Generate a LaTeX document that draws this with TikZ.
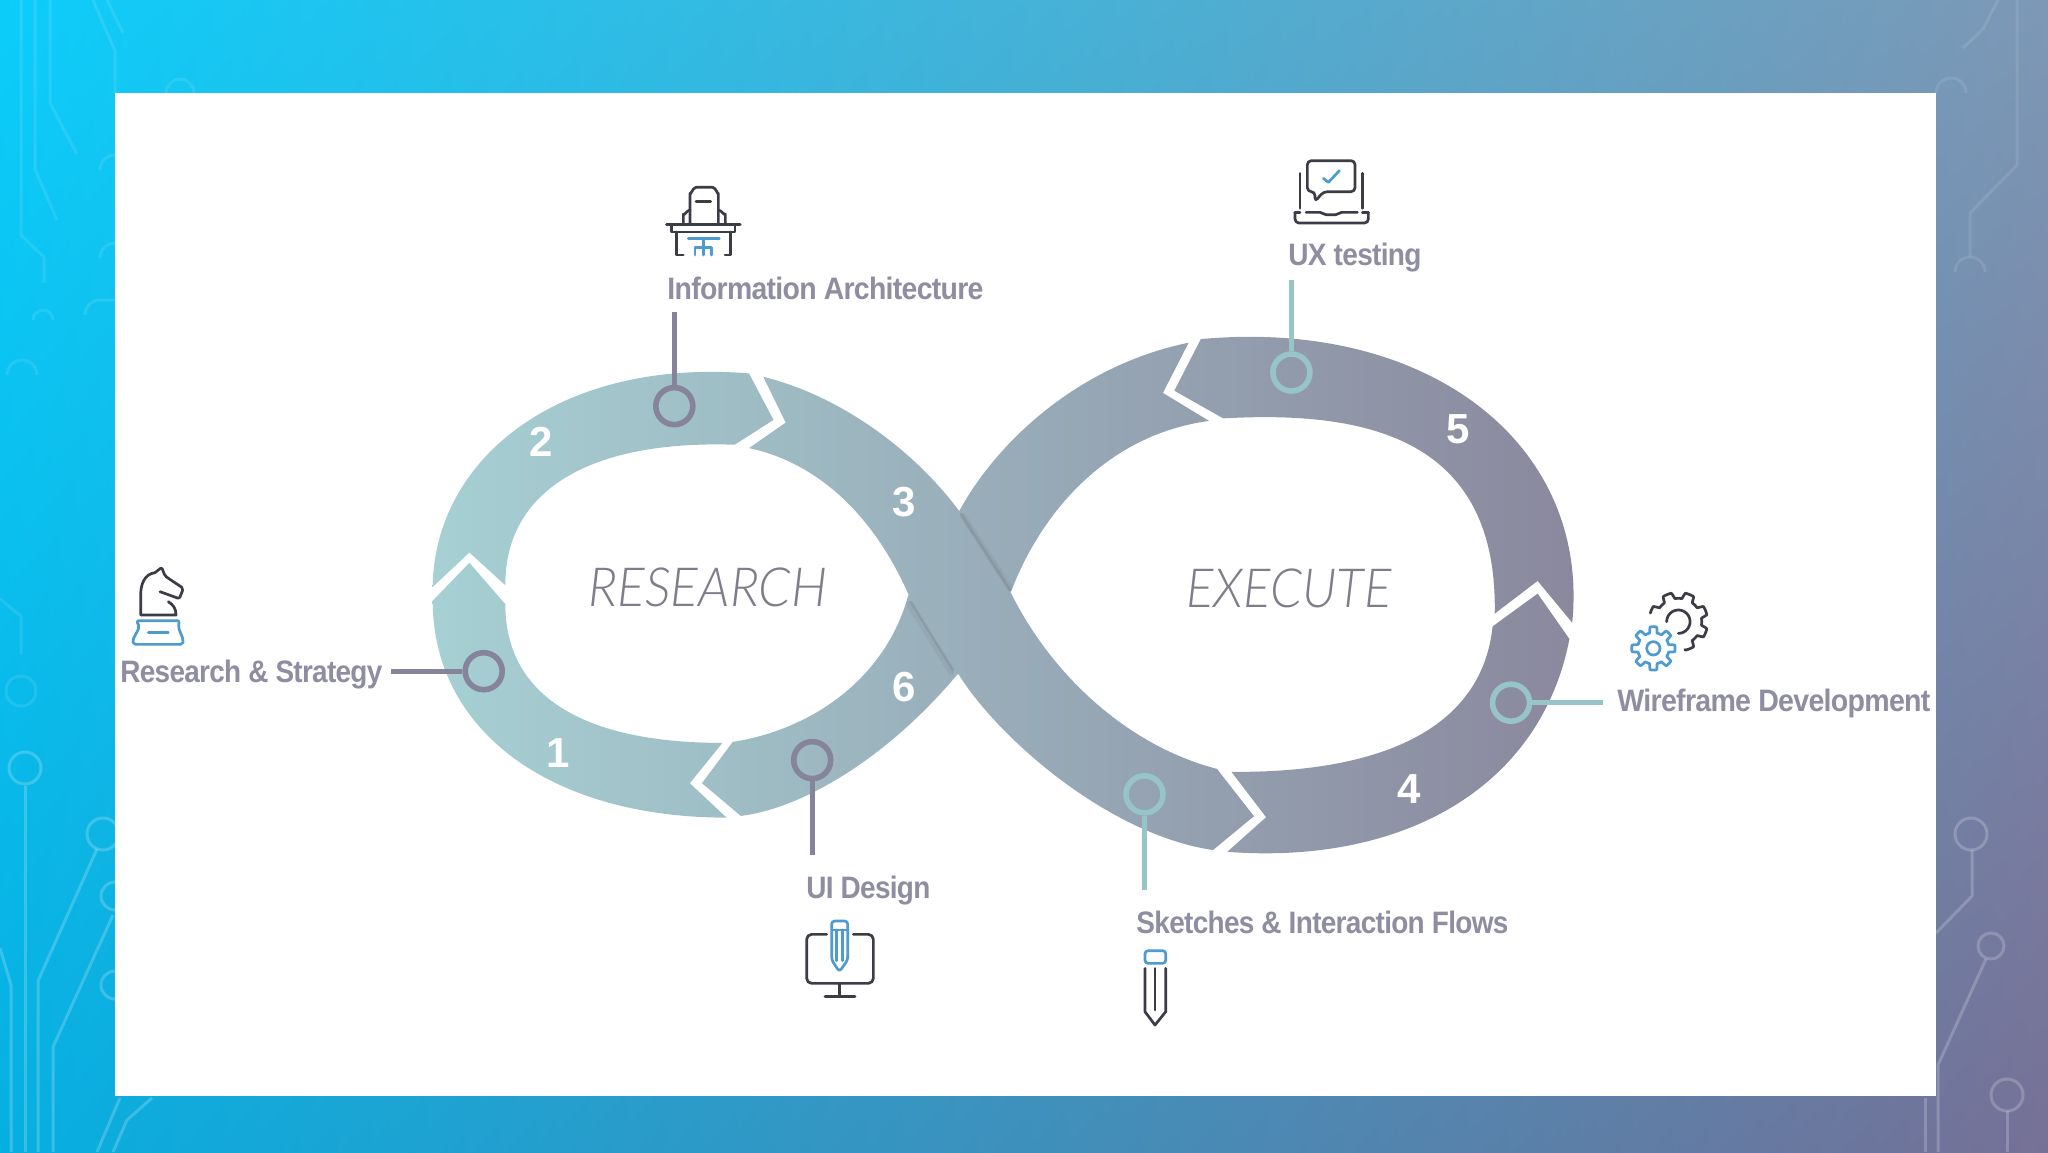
\documentclass[tikz,border=0pt]{standalone}
\usepackage{fontspec}
\usepackage{graphicx}
\usetikzlibrary{shadings}
\setmainfont{Liberation Sans}
\newfontfamily\lightfont{Lato Light Italic}
\newfontfamily\labfont[LetterSpace=-2.5]{Liberation Sans}
\definecolor{labelgray}{HTML}{8E8DA1}
\definecolor{ringgray}{HTML}{85849A}
\definecolor{ringteal}{HTML}{97C4C6}
\definecolor{iconink}{HTML}{3C3C46}
\definecolor{iconblue}{HTML}{4E9BD0}
\definecolor{wordgray}{HTML}{7E7E8A}
\definecolor{bgul}{RGB}{12,205,250}
\definecolor{bgur}{RGB}{125,152,182}
\definecolor{bgll}{RGB}{6,175,225}
\definecolor{bglr}{RGB}{118,112,150}
\definecolor{bandl}{RGB}{166,208,211}
\definecolor{bandm}{RGB}{150,173,187}
\definecolor{bandr}{RGB}{138,135,157}
\tikzset{
  trace/.style={draw=white,draw opacity=.2,line width=1.5pt,line join=round},
  tracefaint/.style={draw=white,draw opacity=.1,line width=1.5pt,line join=round},
  ringg/.style={circle,draw=ringgray,line width=2.8pt,minimum size=18.5pt,inner sep=0pt},
  ringt/.style={circle,draw=ringteal,line width=2.8pt,minimum size=18.5pt,inner sep=0pt},
  stemg/.style={draw=ringgray,line width=2.6pt},
  stemt/.style={draw=ringteal,line width=2.6pt},
  digit/.style={text=white,font=\fontsize{21}{21}\selectfont\bfseries,inner sep=0pt},
  lab/.style={text=labelgray,font=\fontsize{15.5}{15.5}\selectfont\labfont\bfseries,inner sep=0pt,anchor=west},
  big/.style={text=wordgray,font=\fontsize{27}{27}\selectfont\lightfont,inner sep=0pt,anchor=west},
  ink/.style={draw=iconink,line width=1.35pt,line cap=round,line join=round},
  blueink/.style={draw=iconblue,line width=1.35pt,line cap=round,line join=round},
  crease/.style={draw=black!40!gray,line cap=round}
}
\begin{document}
\begin{tikzpicture}[x=.5pt,y=-.5pt]
\useasboundingbox (0,0) rectangle (2048,1152);
\shade[upper left=bgul,upper right=bgur,lower left=bgll,lower right=bglr]
  (0,0) rectangle (2048,1152);
% circuit traces, left
\draw[tracefaint] (21,0)--(21,235)--(44,257)--(44,283);
\draw[tracefaint] (35,0)--(35,169)--(57,220);
\draw[tracefaint] (50,0)--(50,103)--(77,154);
\draw[tracefaint] (93,0)--(115,51)--(115,93);
\draw[tracefaint] (107,0)--(123,33);
\draw[tracefaint] (0,599)--(21,616)--(21,654);
\draw[trace] (25,786)--(25,1152);
\draw[trace] (97,849)--(38,981)--(38,1152);
\draw[trace] (113,915)--(53,1047)--(53,1152);
\draw[trace] (0,948)--(11,985)--(11,1152);
\draw[trace] (120,1098)--(97,1152);
\draw[trace] (152,1098)--(127,1120)--(113,1152);
\draw[tracefaint] (21,691) circle[radius=15];
\draw[trace] (25,768) circle[radius=16];
\draw[trace] (103,834) circle[radius=16];
\draw[trace] (115,896) circle[radius=14];
\draw[trace] (115,985) circle[radius=14];
\draw[tracefaint] (7,375) arc[start angle=180,end angle=360,radius=15];
\draw[tracefaint] (33,320) arc[start angle=180,end angle=360,radius=10];
\draw[tracefaint] (85,315) arc[start angle=180,end angle=270,radius=15]--(115,300);
\draw[tracefaint] (100,258) arc[start angle=180,end angle=270,radius=15];
\draw[tracefaint] (100,170) arc[start angle=180,end angle=270,radius=15];
\draw[tracefaint] (166,93) arc[start angle=180,end angle=360,radius=14];
% circuit traces, right
\draw[tracefaint] (2017,0)--(2017,165)--(1970,213)--(1970,257);
\draw[tracefaint] (1998,0)--(1983,29)--(1963,48);
\draw[tracefaint] (1955,272) arc[start angle=180,end angle=360,radius=15];
\draw[tracefaint] (1936,93) arc[start angle=180,end angle=360,radius=15];
\draw[trace] (1971,834) circle[radius=16];
\draw[trace] (1972,850)--(1972,896)--(1936,933);
\draw[trace] (1991,946) circle[radius=13];
\draw[trace] (1986,959)--(1938,1065)--(1938,1152);
\draw[trace] (2007,1095) circle[radius=16];
\draw[trace] (2007,1111)--(2007,1152);
\draw[trace] (1925,1098)--(1925,1152);
% panel
\fill[white] (115,93) rectangle (1935.5,1096);
% infinity band
\shade[left color=bandl,middle color=bandm,right color=bandr]
 % segment 1
 (505.3,604.1)--(469.4,562.8)--(432.7,600.7)
 .. controls (432.7,730.9) and (550.7,817.6) .. (726.5,817.6)
 --(689.8,783.2)--(722.4,742.9)
 .. controls (581,742.9) and (505.3,694.5) .. (505.3,604.1) --cycle
 % segment 2
 (505.3,585.2)--(469.4,552.5)--(432.7,586.9)
 .. controls (434,459) and (559,358) .. (749,373.4)
 --(773.5,419.9)--(734.7,444.7)
 .. controls (590,440) and (505,490) .. (505.3,585.2) --cycle
 % segment 3
 (763.3,376.8)--(785.7,422.6)--(749,448.1)
 .. controls (815,462) and (872,512) .. (908.2,593.8)
 --(959,675)
 .. controls (1000,740) and (1110,835) .. (1213,850)
 --(1253.9,816.2)--(1217,768.9)
 .. controls (1125,745) and (1050,672) .. (1011,593)
 --(959.2,511.1)
 .. controls (918,455) and (845,397) .. (763.3,376.8) --cycle
 % segment 6, upper part (runs under band 3)
 (1209,420.9)--(1162.9,392.9)--(1188.6,342.7)
 .. controls (1080,365) and (998,440) .. (959.2,511.1)
 --(950,530)--(990,600)--(1011,591.8)
 .. controls (1040,515) and (1105,435) .. (1209,420.9) --cycle
 % segment 6, lower part (runs under band 3)
 (925,585)--(908.2,595.5)
 .. controls (885,680) and (810,730) .. (732.7,741.9)
 --(702,783.2)--(740.8,815.9)
 .. controls (805,808) and (890,755) .. (957.1,674.7)
 --(975,665)--cycle
 % segment 4
 (1231.4,771.8)--(1266.1,817.2)--(1227.3,851.8)
 .. controls (1400,865) and (1540,790) .. (1569.4,639)
 --(1537.6,593.6)--(1492.6,626.4)
 .. controls (1480,745) and (1350,773) .. (1231.4,771.8) --cycle
 % segment 5
 (1494.7,613.6)--(1537.6,580.9)--(1572.2,622.7)
 .. controls (1590,445) and (1430,318) .. (1200.8,339.1)
 --(1174.3,390.7)--(1223.3,418.4)
 .. controls (1370,410) and (1498,440) .. (1494.7,613.6) --cycle;
% creases where band 3 crosses band 6
\draw[crease,line width=3pt,opacity=.08] (963,516)--(1010,588);
\draw[crease,line width=1.3pt,opacity=.14] (961,514)--(1010,590);
\draw[crease,line width=3pt,opacity=.08] (909,604)--(951,672);
\draw[crease,line width=1.3pt,opacity=.14] (911,602)--(953,670);
% numbers
\node[digit] (n1) at (558,753) {1};
\node[digit] (n2) at (540.8,442) {2};
\node[digit] (n3) at (904,502) {3};
\node[digit] (n4) at (1409,789) {4};
\node[digit] (n5) at (1458,429) {5};
\node[digit] (n6) at (904,687) {6};
% centre words
\node[big] (wr) at (588,587) {\resizebox{119.5pt}{\height}{RESEARCH}};
\node[big] (we) at (1186,588.5) {\resizebox{102.5pt}{\height}{EXECUTE}};
% rings and stems
\node[ringg] (c1) at (483.7,671.2) {};
\node[ringg] (c2) at (674.3,406.1) {};
\node[ringg] (c6) at (812.2,760.1) {};
\node[ringt] (c3) at (1144.5,794.3) {};
\node[ringt] (c4) at (1511,702.7) {};
\node[ringt] (c5) at (1291.4,372.5) {};
\coordinate (e1) at (390.5,671.2);
\coordinate (e2) at (674.3,312);
\coordinate (e6) at (812.2,855);
\coordinate (e3) at (1144.5,890);
\coordinate (e4) at (1603,702.7);
\coordinate (e5) at (1291.4,280);
\draw[stemg] (c1)--(e1);
\draw[stemg] (c2)--(e2);
\draw[stemg] (c6)--(e6);
\draw[stemt] (c3)--(e3);
\draw[stemt] (c4)--(e4);
\draw[stemt] (c5)--(e5);
% labels
\node[lab] (l1) at (120,675) {\resizebox{131pt}{\height}{Research \& Strategy}};
\node[lab] (l2) at (667,288) {\resizebox{158pt}{\height}{Information Architecture}};
\node[lab] (l3) at (1288,257.5) {\resizebox{66.5pt}{\height}{UX testing}};
\node[lab] (l4) at (1617,703.5) {\resizebox{156.5pt}{\height}{Wireframe Development}};
\node[lab] (l5) at (806,890.5) {\resizebox{62pt}{\height}{UI Design}};
\node[lab] (l6) at (1136,922.5) {\resizebox{186pt}{\height}{Sketches \& Interaction Flows}};
% chair icon
\begin{scope}[shift={(640,160)},x=.1667pt,y=-.1667pt]
\draw[ink] (150,188)--(150,100) to[out=-90,in=180] (168,82)--(218,82) to[out=0,in=-90] (235,100)--(235,188);
\draw[ink] (130,188)--(130,162) to[out=-90,in=180] (150,150);
\draw[ink] (256,188)--(256,162) to[out=-90,in=0] (235,150);
\draw[ink] (168,124)--(212,124);
\draw[ink,line width=1.7pt] (80,193)--(300,193);
\draw[ink] (95,195)--(95,216)--(285,216)--(285,195);
\draw[ink] (110,216)--(110,285)--(130,285);
\draw[ink] (272,216)--(272,285)--(255,285);
\draw[blueink] (145,235)--(238,235) (190,235)--(190,285) (165,285)--(165,262)--(215,262)--(215,285);
\end{scope}
% laptop icon
\begin{scope}[shift={(1270,140)},x=.1667pt,y=-.1667pt]
\draw[ink,rounded corners=2pt] (112,62)--(255,62)--(255,155)--(160,155)--(135,185)--(135,155)--(112,155)--cycle;
\draw[blueink] (160,115)--(175,127)--(208,92);
\draw[ink] (90,100)--(90,205) (277,100)--(277,205);
\draw[ink] (108,217)--(150,217)--(168,224)--(197,224)--(215,217)--(262,217);
\draw[ink,rounded corners=2pt] (75,217)--(75,249)--(295,249)--(295,217);
\draw[ink] (75,217)--(90,217) (277,217)--(295,217);
\end{scope}
% knight icon
\begin{scope}[shift={(110,550)},x=.1667pt,y=-.1667pt]
\draw[ink,rounded corners=1pt] (150,125)--(208,146)--(220,115)--(165,78)--(155,52)--(135,68);
\draw[ink] (135,68) .. controls (105,72) and (92,100) .. (92,135)--(92,195)--(198,195) .. controls (198,175) and (190,165) .. (175,155);
\draw[blueink,rounded corners=1pt] (80,212)--(208,212)--(205,232)--(220,270)--(218,283)--(70,283)--(68,270)--(88,232)--cycle;
\draw[blueink] (115,248)--(175,248);
\end{scope}
% gears icon
\begin{scope}[shift={(1610,580)},x=.1667pt,y=-.1667pt]
\begin{scope}[shift={(205,125)}]
\draw[ink] plot[domain=-163:77,samples=200] (\x:{79+9*max(min(3*sin(8*\x-90),1),-1)});
\draw[ink] plot[domain=-180:90,samples=60] (\x:35);
\end{scope}
\begin{scope}[shift={(130,205)}]
\draw[blueink] plot[domain=0:360,samples=240] (\x:{56+9*max(min(3*sin(8*\x+90),1),-1)}) --cycle;
\draw[blueink] (0,0) circle[radius=20];
\end{scope}
\end{scope}
% monitor and pencil icon
\begin{scope}[shift={(790,910)},x=.1667pt,y=-.1667pt]
\draw[ink,rounded corners=2.5pt] (110,73)--(50,73)--(50,220)--(250,220)--(250,73)--(190,73);
\draw[ink] (148,222)--(148,260) (105,260)--(195,260);
\draw[blueink,rounded corners=1.5pt] (125,150)--(125,33)--(173,33)--(173,150)--(148,185)--cycle;
\draw[blueink] (125,60)--(173,60) (140,60)--(140,152) (158,60)--(158,152);
\end{scope}
% pencil icon
\begin{scope}[shift={(1120,940)},x=.1667pt,y=-.1667pt]
\draw[blueink,rounded corners=1.5pt] (75,32) rectangle (137,70);
\draw[ink] (75,85)--(75,215)--(105,255)--(137,215)--(137,85);
\draw[ink] (105,85)--(105,210);
\end{scope}
\end{tikzpicture}
\end{document}
